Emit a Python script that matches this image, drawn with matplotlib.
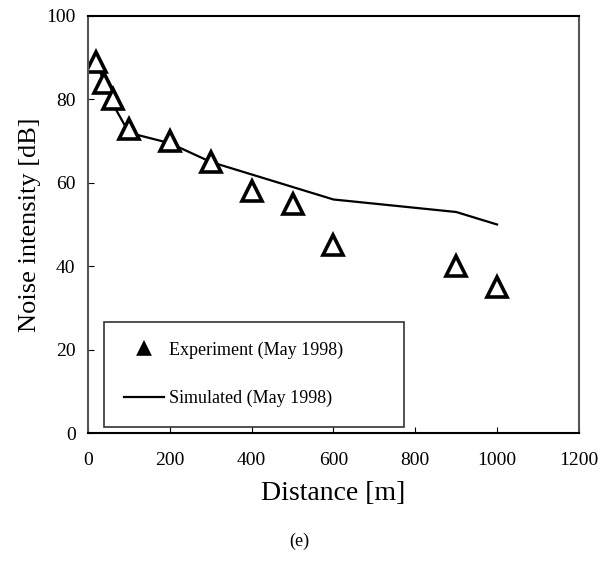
import numpy as np
import matplotlib.pyplot as plt

plt.rcParams['font.family'] = ['Liberation Serif', 'DejaVu Serif']

# experiment (May 1998)
exp_dist = [20, 40, 60, 100, 200, 300, 400, 500, 600, 900, 1000]
exp_db = [89, 84, 80, 73, 70, 65, 58, 55, 45, 40, 35]

# simulated (May 1998)
sim_dist = [20, 40, 60, 100, 200, 300, 400, 500, 600, 900, 1000]
sim_db = [89, 84, 79, 72, 69.5, 65, 62, 59, 56, 53, 50]

fig = plt.figure(figsize=(6.03, 5.67), dpi=100)
ax = fig.add_axes([0.146, 0.2363, 0.814, 0.7355])

ax.plot(sim_dist, sim_db, color='black', lw=1.6, label='Simulated (May 1998)')
ax.plot(exp_dist, exp_db, ls='none', marker='^', ms=15, mfc='white',
        mec='black', mew=2.6, label='Experiment (May 1998)')

ax.set_xlim(0, 1200)
ax.set_ylim(0, 100)
ax.set_xticks(np.arange(0, 1201, 200))
ax.set_yticks(np.arange(0, 101, 20))
ax.tick_params(direction='in', length=4, labelsize=14, pad=14)
ax.tick_params(axis='y', pad=9)
for s in ax.spines.values():
    s.set_linewidth(1.5)
ax.spines['left'].set_color('#555555')
ax.spines['right'].set_color('#555555')

ax.set_xlabel('Distance [m]', fontsize=20, labelpad=8)
ax.set_ylabel('Noise intensity [dB]', fontsize=19, labelpad=4)

h, l = ax.get_legend_handles_labels()
leg = ax.legend(h[::-1], l[::-1], loc='lower left',
                bbox_to_anchor=(0.033, 0.014, 0.611, 0.262), mode='expand',
                borderaxespad=0, fancybox=False, edgecolor='black',
                fontsize=13, markerscale=0.5, labelspacing=1.7,
                handlelength=2.2, handletextpad=0.3, borderpad=1.1)
leg.get_frame().set_linewidth(1.2)
leg.legend_handles[0].set_markerfacecolor('black')

fig.text(0.497, 0.045, '(e)', ha='center', va='center', fontsize=13)

fig.savefig('out.png', dpi=100)
